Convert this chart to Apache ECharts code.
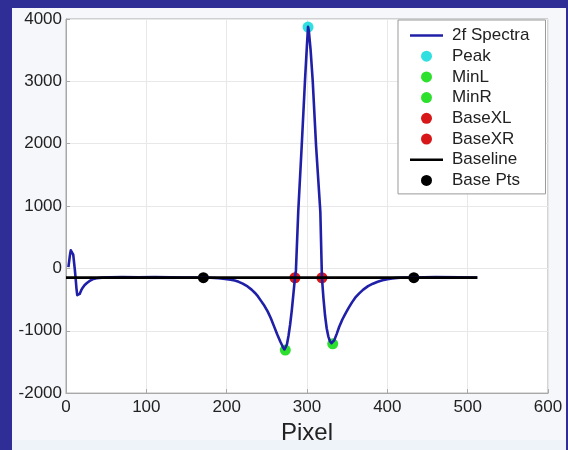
<!DOCTYPE html>
<html>
<head>
<meta charset="utf-8">
<script src="https://cdn.jsdelivr.net/npm/echarts@6/dist/echarts.min.js"></script>
<style>
  html, body { margin: 0; padding: 0; background: #2f2e97; }
  #chart { width: 568px; height: 450px; }
</style>
</head>
<body>
<div id="chart"></div>
<script>
// ---- data ----
const spectraX = [3, 4, 5, 6, 7, 8, 9, 10, 11, 12, 13, 14, 15, 16, 17, 19, 21, 23, 26, 29, 33, 38, 45, 55, 70, 90, 110, 130, 150, 170, 180, 190, 198, 205, 210, 215, 220, 226, 231, 235, 239, 243, 247, 251, 255, 259, 263, 267, 270, 272, 273, 275, 277, 279, 281, 283, 285, 286.2, 289.1, 293.4, 297.5, 299.8, 301.3, 302.2, 304.5, 307.1, 311.3, 316.6, 318.6, 320.5, 322.5, 324.5, 326.5, 328.5, 330.5, 332, 334, 337, 340, 344, 348, 352, 356, 360, 365, 370, 376, 382, 388, 394, 400, 406, 412, 420, 432, 460, 490, 512];
const spectraY = [20, 120, 220, 290, 315, 300, 220, 100, -20, -160, -320, -430, -460, -440, -410, -350, -305, -270, -235, -205, -175, -158, -148, -142, -140, -141, -140, -142, -145, -146, -150, -158, -168, -180, -195, -215, -245, -290, -340, -390, -450, -525, -600, -690, -800, -930, -1060, -1180, -1260, -1300, -1310, -1220, -1080, -900, -680, -420, -150, -36, 909, 1963, 3013, 3550, 3875, 3820, 3500, 3013, 1963, 909, -150, -480, -760, -960, -1090, -1165, -1200, -1210, -1150, -1050, -940, -820, -720, -630, -545, -470, -400, -340, -285, -245, -215, -190, -172, -160, -152, -147, -145, -140, -142, -145];
const baselineX = [0, 512];
const baselineY = [-148, -148];
const peakPt = [301.3, 3870];
const minLPt = [273, -1310];
const minRPt = [332, -1210];
const baseXLPt = [285, -150];
const baseXRPt = [318.6, -150];
const basePtsX = [171, 433];
const basePtsY = [-148, -148];
const xTicks = [0, 600, 100];
const yTicks = [-2000, 4000, 1000];
const seriesNames = ['2f Spectra', 'Peak', 'MinL', 'MinR', 'BaseXL', 'BaseXR', 'Baseline', 'Base Pts'];

const zip = (a, b) => a.map((v, i) => [v, b[i]]);
const FONT = 'Liberation Sans, Arial, sans-serif';
const lineIcon = 'path://M0,0 M0,4.3 L33,4.3 L33,6.7 L0,6.7 Z M33,11';

const chart = echarts.init(document.getElementById('chart'), null, { renderer: 'canvas' });
const markerSize = 11;
const option = {
  backgroundColor: 'transparent',
  animation: false,
  graphic: [
    { type: 'rect', z: -10, shape: { x: 12, y: 8, width: 554, height: 442 }, style: { fill: '#f6f7fb' } },
    { type: 'rect', z: -9, shape: { x: 12, y: 440, width: 554, height: 10 }, style: { fill: '#eef3fa' } }
  ],
  grid: {
    left: 66, top: 19, right: 20, bottom: 50,
    show: true, backgroundColor: '#ffffff', borderColor: '#a8a8a8', borderWidth: 1
  },
  legend: {
    orient: 'vertical',
    left: 398, top: 20,
    padding: [7, 16, 5, 12],
    itemWidth: 33, itemHeight: 11, itemGap: 3.7,
    backgroundColor: '#ffffff', borderColor: '#9a9a9a', borderWidth: 1,
    textStyle: { fontFamily: FONT, fontSize: 17, color: '#222', lineHeight: 17, padding: [0, 0, 0, 4] },
    data: seriesNames.map((n, i) => (i === 0 || i === 6) ? { name: n, icon: lineIcon } : { name: n, icon: 'circle' })
  },
  xAxis: {
    type: 'value', min: xTicks[0], max: xTicks[1], interval: xTicks[2],
    name: 'Pixel', nameLocation: 'middle', nameGap: 27,
    nameTextStyle: { fontFamily: FONT, fontSize: 24, color: '#222' },
    axisLine: { show: true, onZero: false, lineStyle: { color: '#a8a8a8', width: 1 } },
    axisTick: { show: true, inside: true, length: 4, lineStyle: { color: '#a8a8a8' } },
    axisLabel: { fontFamily: FONT, fontSize: 17, color: '#222', margin: 6, formatter: v => String(v) },
    splitLine: { show: true, lineStyle: { color: '#e8e8e8', width: 1 } }
  },
  yAxis: {
    type: 'value', min: yTicks[0], max: yTicks[1], interval: yTicks[2],
    axisLine: { show: true, onZero: false, lineStyle: { color: '#a8a8a8', width: 1 } },
    axisTick: { show: true, inside: true, length: 4, lineStyle: { color: '#a8a8a8' } },
    axisLabel: { fontFamily: FONT, fontSize: 17, color: '#222', margin: 4, formatter: v => String(v) },
    splitLine: { show: true, lineStyle: { color: '#e8e8e8', width: 1 } }
  },
  series: [
    { name: seriesNames[0], type: 'line', data: zip(spectraX, spectraY), symbol: 'none',
      lineStyle: { color: '#1f1fa8', width: 2.6, join: 'round' }, itemStyle: { color: '#1f1fa8' } },
    { name: seriesNames[1], type: 'scatter', data: [peakPt], symbolSize: markerSize, itemStyle: { color: '#30e0e0', opacity: 1 } },
    { name: seriesNames[2], type: 'scatter', data: [minLPt], symbolSize: markerSize, itemStyle: { color: '#2ee02e', opacity: 1 } },
    { name: seriesNames[3], type: 'scatter', data: [minRPt], symbolSize: markerSize, itemStyle: { color: '#2ee02e', opacity: 1 } },
    { name: seriesNames[4], type: 'scatter', data: [baseXLPt], symbolSize: markerSize, itemStyle: { color: '#d81818', opacity: 1 } },
    { name: seriesNames[5], type: 'scatter', data: [baseXRPt], symbolSize: markerSize, itemStyle: { color: '#d81818', opacity: 1 } },
    { name: seriesNames[6], type: 'line', data: zip(baselineX, baselineY), symbol: 'none',
      lineStyle: { color: '#000000', width: 2.6 }, itemStyle: { color: '#000000' } },
    { name: seriesNames[7], type: 'scatter', data: zip(basePtsX, basePtsY), symbolSize: markerSize, itemStyle: { color: '#000000', opacity: 1 } }
  ]
};
chart.setOption(option);
</script>
</body>
</html>
